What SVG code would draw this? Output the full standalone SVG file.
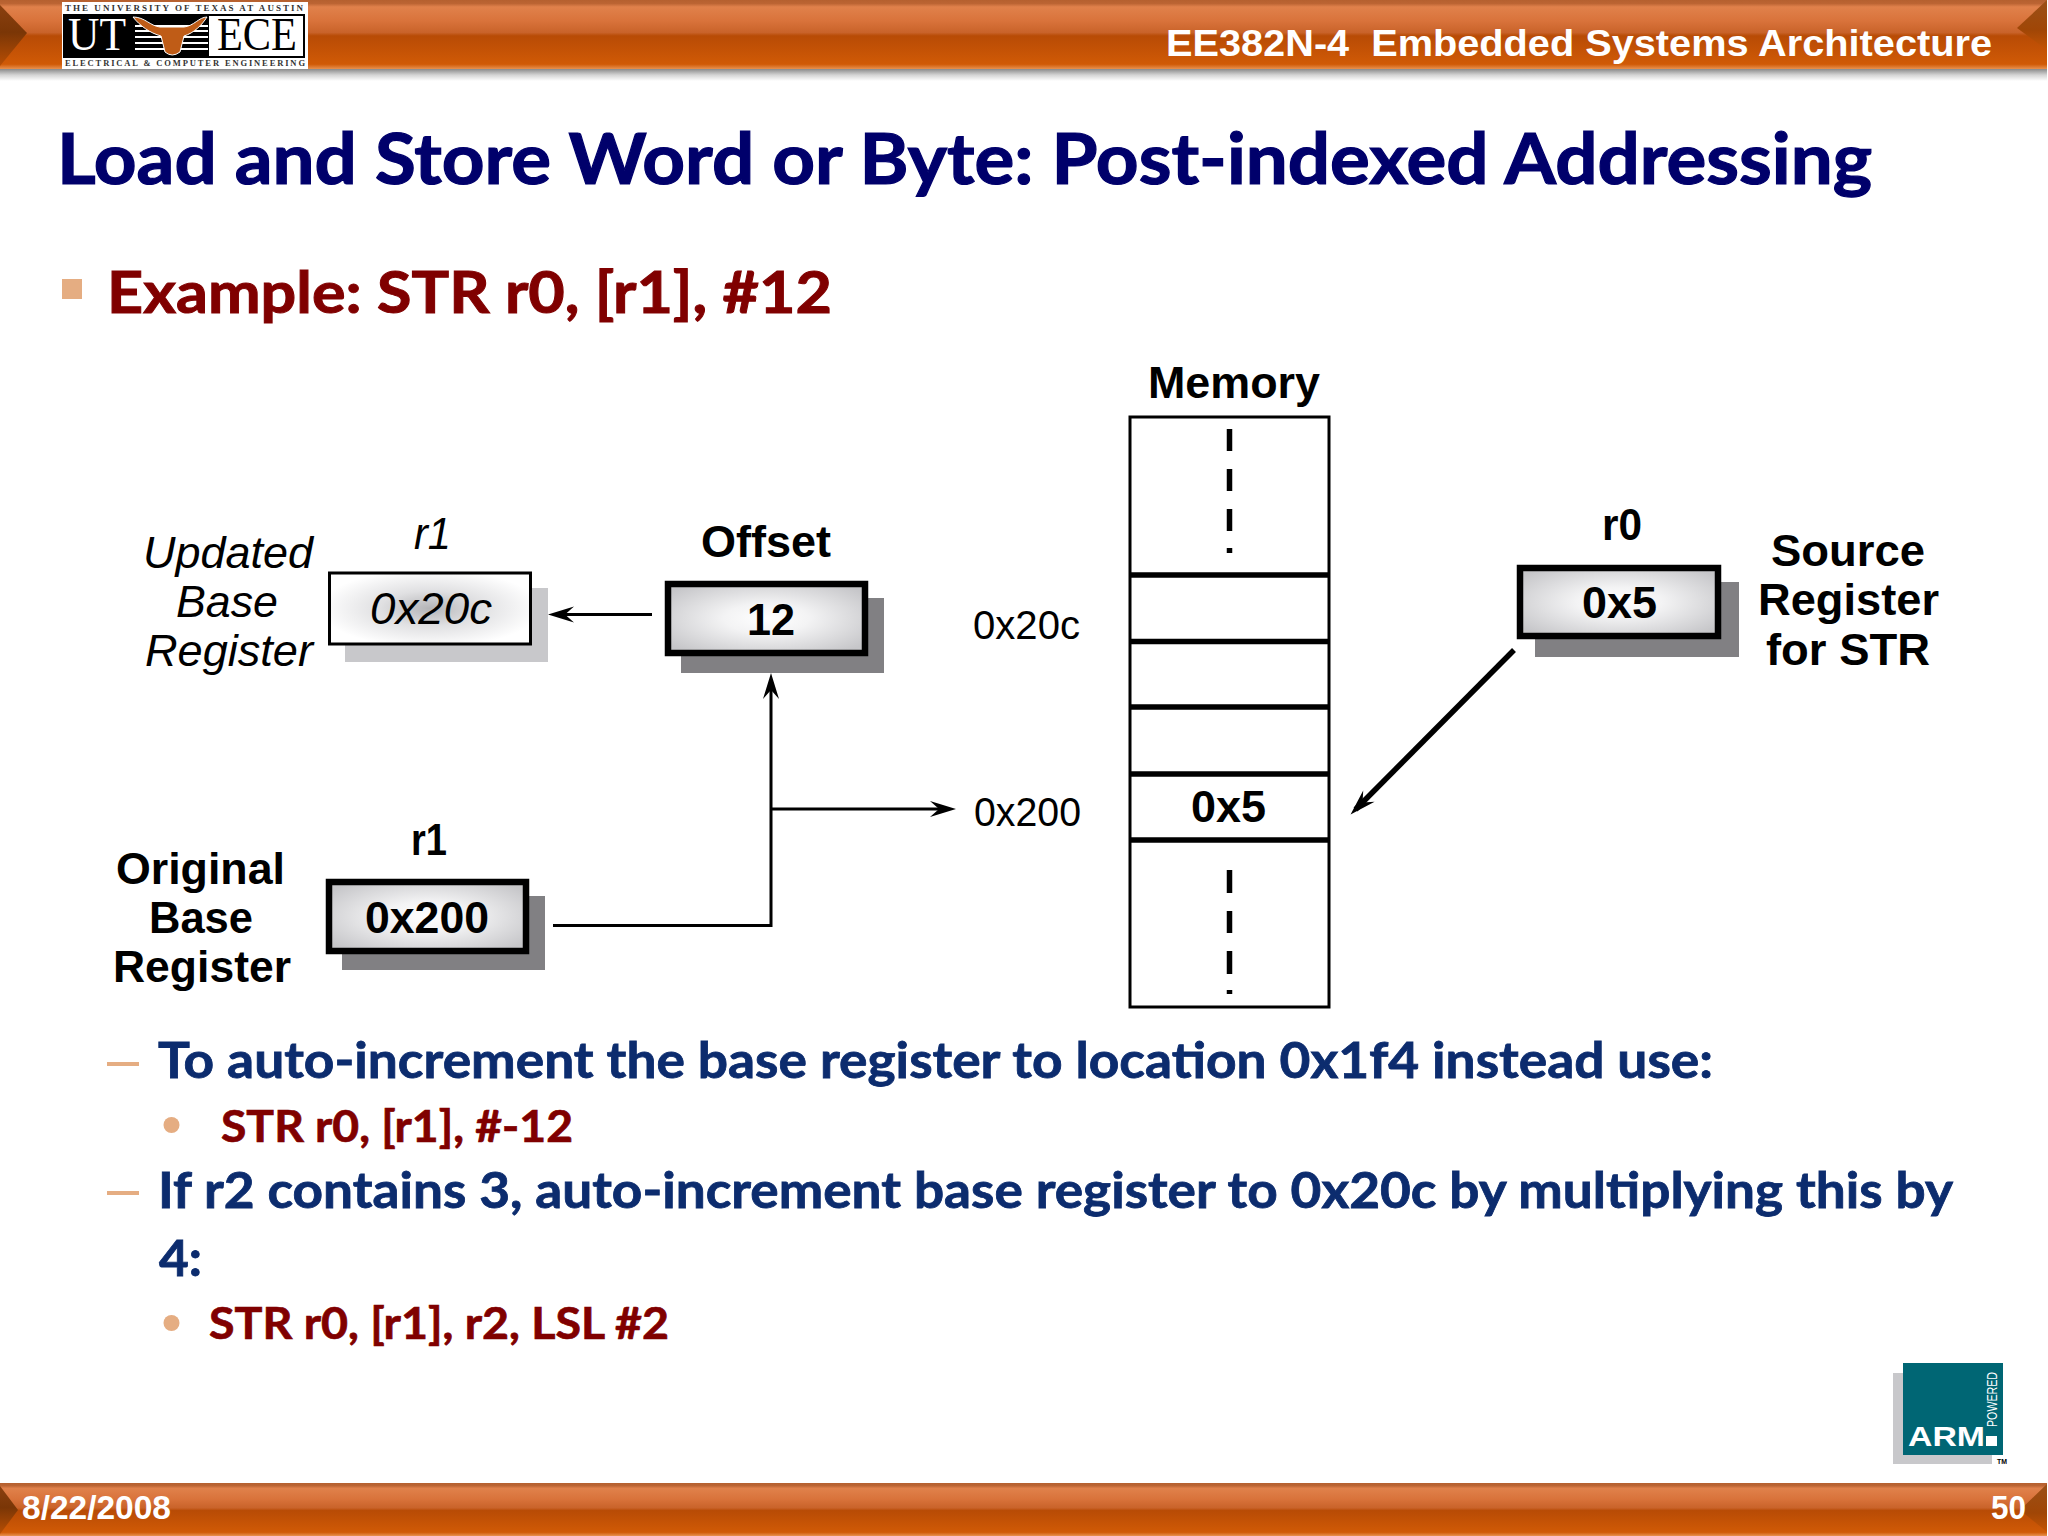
<svg xmlns="http://www.w3.org/2000/svg" width="2048" height="1536" viewBox="0 0 2048 1536">
<style>
text{font-family:"Liberation Sans",Arial,sans-serif;fill:#000}
.b{font-weight:700;font-size:45px}
.i{font-style:italic;font-size:45px}
.r{font-size:40px}
.w{font-weight:700;fill:#fff;font-size:37px}
.body{font-family:Lato,"Noto Sans",sans-serif;font-weight:700}
.t1{fill:#00006b;font-size:70px;stroke:#00006b;stroke-width:1.2px}
.h1{fill:#800000;font-size:58px;stroke:#800000;stroke-width:1px}
.h2{fill:#0c2c6e;font-size:50px;stroke:#0c2c6e;stroke-width:.8px}
.h3{fill:#800000;font-size:44.5px;stroke:#800000;stroke-width:.7px}
.mk{fill:#e5ad82}
.sd{fill:#818083}
.sl{fill:#c8c8cb}
.hv{fill:url(#heavy);stroke:#000;stroke-width:6.5}
.lt{fill:url(#light);stroke:#000;stroke-width:3}
.ln{fill:none;stroke:#000;stroke-width:3}
.div{stroke:#000;stroke-width:5.5}
.dash{stroke:#000;stroke-width:5.5}
.logo{font-family:"Liberation Serif",serif}
</style>
<defs>
<linearGradient id="bar" x1="0" y1="0" x2="0" y2="1">
<stop offset="0" stop-color="#b5602f"/><stop offset=".05" stop-color="#bb6433"/><stop offset=".1" stop-color="#e0814b"/><stop offset=".3" stop-color="#d9733b"/><stop offset=".47" stop-color="#c9632a"/><stop offset=".52" stop-color="#b84b05"/><stop offset=".93" stop-color="#d05a06"/><stop offset="1" stop-color="#e8914f"/>
</linearGradient>
<linearGradient id="shade" x1="0" y1="0" x2="0" y2="1">
<stop offset="0" stop-color="#8a8a8a"/><stop offset=".5" stop-color="#d4d4d4"/><stop offset="1" stop-color="#fff"/>
</linearGradient>
<linearGradient id="wedgeL" x1="0" y1="0" x2="0" y2="1">
<stop offset="0" stop-color="#8a4010"/><stop offset=".45" stop-color="#7a3606"/><stop offset="1" stop-color="#b84e04"/>
</linearGradient>
<linearGradient id="wedgeR" x1="0" y1="0" x2="0" y2="1">
<stop offset="0" stop-color="#9a5018"/><stop offset=".6" stop-color="#a04606"/><stop offset="1" stop-color="#c45404"/>
</linearGradient>
<radialGradient id="heavy" cx=".5" cy=".5" r=".62"><stop offset="0" stop-color="#fff"/><stop offset=".35" stop-color="#f3f3f4"/><stop offset="1" stop-color="#c6c6c9"/></radialGradient>
<radialGradient id="light" cx=".5" cy=".5" r=".55"><stop offset="0" stop-color="#b4b4b7"/><stop offset=".45" stop-color="#e0e0e2"/><stop offset="1" stop-color="#fff"/></radialGradient>
<marker id="arr" viewBox="0 0 28 18" refX="20" refY="9" markerUnits="userSpaceOnUse" markerWidth="28" markerHeight="18" orient="auto">
<path d="M27 9 L1 1 L10 9 L1 17Z" fill="#000"/></marker>
</defs>
<rect width="2048" height="1536" fill="#fff"/>

<g id="header">
<rect x="0" y="69" width="2047" height="12" fill="url(#shade)"/>
<rect x="0" y="0" width="2047" height="69" fill="url(#bar)"/>
<path d="M0 5 L27 33 L0 66Z" fill="url(#wedgeL)"/>
<path d="M2047 0 L2017 28 L2047 50Z" fill="url(#wedgeR)"/>
<text class="w" x="1166" y="56" textLength="826" lengthAdjust="spacingAndGlyphs" xml:space="preserve">EE382N-4  Embedded Systems Architecture</text>
</g>

<g id="ut-logo">
<rect x="62" y="2" width="246" height="67" fill="#fff"/>
<rect x="63" y="14" width="242" height="44" fill="#000"/>
<rect x="209" y="16" width="94" height="40" fill="#fff"/>
<text class="logo" x="65" y="11" font-size="9" textLength="238" font-weight="700" style="fill:#333">THE UNIVERSITY OF TEXAS AT AUSTIN</text>
<text class="logo" x="68" y="50" font-size="46" textLength="58" lengthAdjust="spacingAndGlyphs" style="fill:#fff">UT</text>
<text class="logo" x="217" y="50" font-size="46" textLength="80" lengthAdjust="spacingAndGlyphs">ECE</text>
<g fill="#fff"><rect x="135" y="25" width="73" height="2"/><rect x="135" y="30" width="73" height="2"/><rect x="135" y="36" width="73" height="2"/><rect x="135" y="42" width="73" height="2"/><rect x="135" y="48" width="73" height="2"/></g>
<path d="M133 17 C145 17 150 26 160 27 L184 27 C194 26 199 17 207 17 C202 25 194 33 184 36 L180 52 Q172 58 165 52 L161 36 C150 33 140 26 133 17Z" fill="#bf5c17" stroke="#fff" stroke-width="1"/>
<text class="logo" x="65" y="66" font-size="8.5" textLength="240" font-weight="700" style="fill:#333">ELECTRICAL &amp; COMPUTER ENGINEERING</text>
</g>

<g id="titles">
<text class="body t1" x="57" y="184" textLength="1815" lengthAdjust="spacingAndGlyphs">Load and Store Word or Byte: Post-indexed Addressing</text>
<rect class="mk" x="62" y="279" width="20" height="20"/>
<text class="body h1" x="107" y="313" textLength="725" lengthAdjust="spacingAndGlyphs">Example: STR r0, [r1], #12</text>
</g>

<g id="connectors">
<line class="ln" x1="652" y1="614.500" x2="555" y2="614.500" marker-end="url(#arr)"/>
<path class="ln" d="M553 925.500 H771 V680" marker-end="url(#arr)"/>
<line class="ln" x1="771" y1="809" x2="949" y2="809" marker-end="url(#arr)"/>
<line x1="1514" y1="650" x2="1355.500" y2="809.500" stroke="#000" stroke-width="5.500" marker-end="url(#arr)"/>
</g>

<g id="updated-r1">
<rect class="sl" x="345" y="588" width="203" height="74"/>
<rect class="lt" x="329.500" y="573" width="201" height="71"/>
<text class="i" x="370" y="624" textLength="122" lengthAdjust="spacingAndGlyphs">0x20c</text>
<text class="i" x="414" y="549" textLength="37" lengthAdjust="spacingAndGlyphs">r1</text>
<text class="i" x="143" y="568" textLength="170" lengthAdjust="spacingAndGlyphs">Updated</text>
<text class="i" x="176" y="617" textLength="102" lengthAdjust="spacingAndGlyphs">Base</text>
<text class="i" x="145" y="666" textLength="168" lengthAdjust="spacingAndGlyphs">Register</text>
</g>

<g id="offset">
<rect class="sd" x="681" y="598" width="203" height="75"/>
<rect class="hv" x="668" y="584" width="197" height="69"/>
<text class="b" x="747" y="635" textLength="48" lengthAdjust="spacingAndGlyphs">12</text>
<text class="b" x="701" y="557" textLength="130" lengthAdjust="spacingAndGlyphs">Offset</text>
</g>

<g id="original-r1">
<rect class="sd" x="342" y="896" width="203" height="74"/>
<rect class="hv" x="329" y="882" width="197" height="69"/>
<text class="b" x="365" y="933" textLength="124" lengthAdjust="spacingAndGlyphs">0x200</text>
<text class="b" x="411" y="855" textLength="36" lengthAdjust="spacingAndGlyphs">r1</text>
<text class="b" x="116" y="884" textLength="169" lengthAdjust="spacingAndGlyphs">Original</text>
<text class="b" x="149" y="933" textLength="104" lengthAdjust="spacingAndGlyphs">Base</text>
<text class="b" x="113" y="982" textLength="178" lengthAdjust="spacingAndGlyphs">Register</text>
</g>

<g id="memory">
<rect x="1130" y="417" width="199" height="590" fill="#fff" stroke="#000" stroke-width="3"/>
<line class="div" x1="1130" x2="1329" y1="575" y2="575"/>
<line class="div" x1="1130" x2="1329" y1="641.500" y2="641.500"/>
<line class="div" x1="1130" x2="1329" y1="707" y2="707"/>
<line class="div" x1="1130" x2="1329" y1="774" y2="774"/>
<line class="div" x1="1130" x2="1329" y1="840" y2="840"/>
<path class="dash" d="M1229.500 429V451M1229.500 469V491M1229.500 509V531M1229.500 548V553M1229.500 870V893M1229.500 911V933M1229.500 951V974M1229.500 990V994"/>
<text class="b" x="1148" y="398" textLength="172" lengthAdjust="spacingAndGlyphs">Memory</text>
<text class="b" x="1191" y="822" textLength="75" lengthAdjust="spacingAndGlyphs">0x5</text>
<text class="r" x="973" y="639" textLength="107" lengthAdjust="spacingAndGlyphs">0x20c</text>
<text class="r" x="974" y="826" textLength="107" lengthAdjust="spacingAndGlyphs">0x200</text>
</g>

<g id="r0">
<rect class="sd" x="1535" y="582" width="204" height="75"/>
<rect class="hv" x="1520" y="568" width="198" height="68"/>
<text class="b" x="1582" y="618" textLength="75" lengthAdjust="spacingAndGlyphs">0x5</text>
<text class="b" x="1602" y="540" textLength="40" lengthAdjust="spacingAndGlyphs">r0</text>
<text class="b" x="1771" y="566" textLength="154" lengthAdjust="spacingAndGlyphs">Source</text>
<text class="b" x="1758" y="615" textLength="181" lengthAdjust="spacingAndGlyphs">Register</text>
<text class="b" x="1766" y="665" textLength="164" lengthAdjust="spacingAndGlyphs">for STR</text>
</g>

<g id="bullets">
<rect class="mk" x="107" y="1062" width="32" height="4"/>
<text class="body h2" x="158" y="1078" textLength="1555" lengthAdjust="spacingAndGlyphs">To auto-increment the base register to location 0x1f4 instead use:</text>
<circle class="mk" cx="171.500" cy="1125" r="8"/>
<text class="body h3" x="221" y="1142" textLength="352" lengthAdjust="spacingAndGlyphs">STR r0, [r1], #-12</text>
<rect class="mk" x="107" y="1191" width="32" height="4"/>
<text class="body h2" x="158" y="1208" textLength="1795" lengthAdjust="spacingAndGlyphs">If r2 contains 3, auto-increment base register to 0x20c by multiplying this by</text>
<text class="body h2" x="159" y="1276" textLength="43" lengthAdjust="spacingAndGlyphs">4:</text>
<circle class="mk" cx="171.500" cy="1323" r="8"/>
<text class="body h3" x="209" y="1339" textLength="460" lengthAdjust="spacingAndGlyphs">STR r0, [r1], r2, LSL #2</text>
</g>

<g id="arm-logo">
<rect class="sl" x="1893" y="1373" width="99" height="91"/>
<rect x="1903" y="1363" width="100" height="92" fill="#006674"/>
<text x="1908" y="1446" font-size="28" font-weight="700" textLength="77" lengthAdjust="spacingAndGlyphs" style="fill:#fff">ARM</text>
<rect x="1986" y="1436" width="11" height="10" fill="#fff"/>
<text transform="translate(1997 1427) rotate(-90)" font-size="14" textLength="55" lengthAdjust="spacingAndGlyphs" style="fill:#fff">POWERED</text>
<text x="1997" y="1464" font-size="7" font-weight="700" textLength="10" lengthAdjust="spacingAndGlyphs">TM</text>
</g>

<g id="footer">
<rect x="0" y="1483" width="2047" height="53" fill="url(#bar)"/>
<path d="M0 1486 L18 1510 L0 1534Z" fill="url(#wedgeL)"/>
<path d="M2047 1484 L2020 1510 L2047 1532Z" fill="url(#wedgeR)"/>
<text class="w" x="22" y="1519" textLength="149" lengthAdjust="spacingAndGlyphs" style="font-size:33px">8/22/2008</text>
<text class="w" x="1991" y="1519" textLength="35" lengthAdjust="spacingAndGlyphs" style="font-size:33px">50</text>
</g>
</svg>
